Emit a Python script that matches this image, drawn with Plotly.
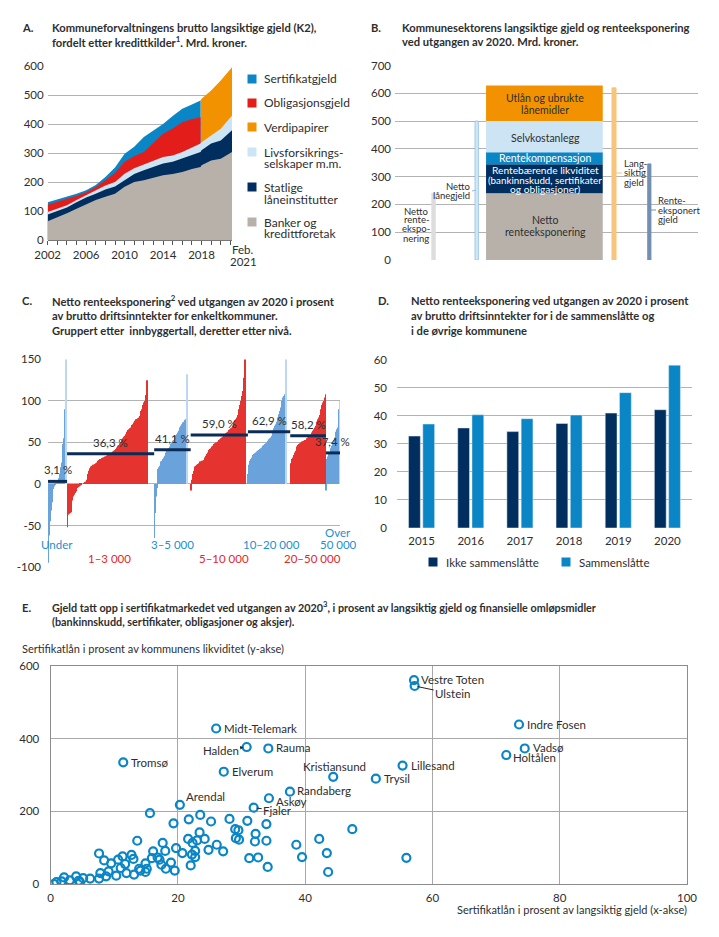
import numpy as np
import plotly.graph_objects as go

W, H = 719, 937
def PX(x): return x / W
def PY(y): return 1 - y / H

FONT = "Lato"
TXT = "#2e2e2e"
GRID = "#b3b3b3"
TSIZE = 11.2

# ---------------- Panel A data (Mrd. kroner, layer amounts) ----------------
a_x = [2002, 2003, 2004, 2005, 2006, 2007, 2008, 2009, 2010, 2011, 2012, 2013,
       2014, 2015, 2016, 2017, 2017.9, 2018, 2019, 2020, 2021.17]
a_banker = [65, 78, 92, 108, 124, 138, 149, 160, 184, 200, 206, 216, 224, 228, 235, 245, 252, 258, 275, 281, 304]
a_statlige = [23, 22, 20, 22, 23, 22, 25, 25, 22, 28, 35, 36, 40, 42, 46, 48, 52, 52, 58, 63, 75]
a_livs = [9, 8, 8, 8, 8, 10, 14, 15, 23, 20, 21, 22, 23, 22, 23, 25, 29, 28, 28, 40, 51]
a_oblig = [25, 24, 21, 15, 10, 13, 18, 32, 41, 42, 42, 61, 80, 93, 103, 100, 91]   # to 2017.9
a_sert = [8, 8, 8, 7, 7, 7, 12, 18, 28, 32, 52, 43, 34, 43, 46, 50, 58]            # to 2017.9
a_verdi = [149, 150, 155, 167, 167]                                                # from 2017.9
a_ticks = [2002, 2006, 2010, 2014, 2018]
a_legend = [("Sertifikatgjeld", None), ("Obligasjonsgjeld", None), ("Verdipapirer", None),
            ("Livsforsikrings-", "selskaper m.m."), ("Statlige", "låneinstitutter"),
            ("Banker og", "kredittforetak")]

# ---------------- Panel B data ----------------
b_seg_names = ["Netto renteeksponering", "Rentebærende likviditet", "Rentekompensasjon",
               "Selvkostanlegg", "Utlån og ubrukte lånemidler"]
b_seg_values = [240, 105, 43, 112, 128]
b_thin_names = ["Netto renteeksponering", "Netto lånegjeld", "Langsiktig gjeld", "Renteeksponert gjeld"]
b_thin_values = [240, 500, 620, 346]

# ---------------- Panel C data (% av brutto driftsinntekter) ----------------
c_groups = ["Under", "1–3 000", "3–5 000", "5–10 000", "10–20 000", "20–50 000", "Over<br>50 000"]
c_under = [-95, -62, -45, -32, -22, -12, -6, -3, -1, 0, 1, 2, 4, 7, 12, 20, 26, 35, 48, 55, 90, 150]
c_1_3 = [-52, -37, -36, -35, -34, -33, -20, -15, -13, -11, -9, -7, -5, -4, -3, -2, -1, -1,
         0, 0, 1, 2, 3, 5, 8, 12, 16, 19, 21, 22, 22, 23, 23, 24, 25, 26, 27, 28, 29, 30,
         30, 31, 31, 32, 32, 33, 33, 34, 34, 35, 35, 36, 37, 37, 38, 39,
         40, 41, 42, 43, 44, 46, 47, 49, 50, 52, 53, 55, 57, 58, 60, 62, 63, 65, 66, 67,
         68, 70, 71, 72, 74, 76, 77, 78, 78, 79, 80, 82, 85, 88, 90, 95, 98, 100, 104, 107, 125]
c_3_5 = [-65, -35, -15, -5, 18, 20, 22, 25, 27, 28, 30, 32, 34, 36, 38, 40, 41, 43, 45, 46,
         48, 50, 52, 53, 55, 57, 58, 60, 62, 64, 66, 68, 70, 72, 74, 75, 76, 77, 78, 132]
c_5_10 = [-8, 5, 12, 16, 19, 21, 22, 23, 24, 25, 26, 27, 27, 28, 28, 29, 30, 32, 34, 36, 38, 40,
          41, 42, 43, 45, 46, 47, 48, 49, 50, 50, 51, 52, 53, 54, 55, 56, 57, 58, 59, 60, 61, 62,
          63, 64, 65, 66, 67, 68, 70, 72, 74, 76, 78, 80, 83, 86, 90, 95, 100, 106, 112, 120, 128, 150]
c_10_20 = [12, 23, 28, 30, 32, 33, 35, 36, 37, 38, 39, 40, 40, 41, 42, 43, 44, 45, 46, 47,
           48, 49, 50, 51, 52, 54, 55, 56, 58, 61, 64, 67, 70, 72, 75, 78, 80, 84, 88, 92,
           97, 100, 104, 106, 108, 150]
c_20_50 = [25, 28, 30, 32, 35, 38, 40, 42, 45, 47, 48, 49, 50, 50, 51, 51, 52, 53, 53, 54,
           55, 56, 57, 58, 59, 60, 62, 64, 66, 68, 70, 72, 75, 78, 80, 83, 86, 90, 95, 98,
           100, 104, 108]
c_over = [-8, 30, 33, 36, 38, 40, 43, 46, 50, 53, 56, 60, 63, 66, 68, 90, 100]
c_means = [3.1, 36.3, 41.1, 59.0, 62.9, 58.2, 37.4]
c_values = [c_under, c_1_3, c_3_5, c_5_10, c_10_20, c_20_50, c_over]

# ---------------- Panel D data ----------------
d_years = ["2015", "2016", "2017", "2018", "2019", "2020"]
d_ikke = [32.8, 35.7, 34.4, 37.3, 41.0, 42.2]
d_samm = [37.1, 40.4, 39.0, 40.3, 48.3, 58.1]

# ---------------- Panel E data ----------------
e_x = [0.5, 0.9, 1.7, 2.1, 3.0, 4.0, 4.4, 4.6, 5.1, 6.2, 7.6, 7.8, 7.6, 8.4, 8.7, 9.1, 9.5,
       10.3, 10.6, 11.0, 11.3, 11.7, 11.9, 12.7, 13.0, 13.1, 13.6, 13.9, 14.1, 14.9, 15.1,
       14.9, 15.6, 15.9, 16.1, 16.8, 17.1, 17.4, 17.6, 18.0, 18.1, 18.9, 19.3, 19.5, 19.7,
       20.7, 21.7, 21.6, 22.0, 22.2, 22.3, 22.7, 22.7, 23.0, 23.5, 23.4, 24.2, 24.8, 25.2,
       26.1, 27.1, 28.1, 29.0, 29.5, 29.1, 29.6, 30.9, 31.2, 32.2, 32.1, 32.6, 33.9, 33.9,
       34.1, 38.6, 39.5, 42.2, 43.4, 43.6, 47.4, 55.9]
e_y = [0, 5, 7, 18, 10, 21, 9, 5, 16, 15, 84, 30, 15, 65, 21, 35, 57, 23, 67, 44, 76, 55,
       30, 80, 69, 26, 119, 42, 37, 57, 42, 33, 195, 71, 90, 73, 67, 53, 113, 91, 42, 59,
       167, 37, 99, 85, 178, 124, 51, 81, 113, 91, 74, 120, 190, 142, 124, 94, 172, 108, 90,
       179, 151, 148, 126, 122, 174, 71, 138, 117, 73, 165, 119, 47, 108, 74, 124, 85, 33,
       151, 72]
e_names = ["Tromsø", "Midt-Telemark", "Halden", "Rauma", "Elverum", "Arendal", "Kristiansund",
           "Randaberg", "Askøy", "Fjaler", "Vestre Toten", "Ulstein", "Indre Fosen", "Vadsø",
           "Holtålen", "Lillesand", "Trysil"]
e_lab_x = [11.4, 26.0, 30.8, 34.2, 27.2, 20.3, 44.4, 37.6, 34.3, 31.9, 57.1, 57.2, 73.6, 74.5, 71.6, 55.3, 51.1]
e_lab_y = [335, 428, 377, 373, 309, 218, 295, 254, 236, 210, 561, 545, 439, 373, 355, 326, 290]

# ---------------- styles ----------------
C_GRAY = "#b7b1aa"; C_NAVY = "#002f5f"; C_LIGHT = "#cde4f4"
C_RED = "#e31e1a"; C_BLUE = "#0a86c6"; C_ORANGE = "#f39200"
C_BARBLUE = "#6aa3db"; C_BARRED = "#e5342f"; C_BARLIGHT = "#bcd8f0"

fig = go.Figure()
ann = []
shapes = []

def text(x, y, s, size=11, color=TXT, xanchor="left", bold=False):
    if bold:
        s = "<b>" + s + "</b>"
    ann.append(dict(x=PX(x), y=PY(y), xref="paper", yref="paper", text=s, showarrow=False,
                    xanchor=xanchor, yanchor="middle", font=dict(family=FONT, size=size, color=color)))

def square(x, y, color, s=9):
    shapes.append(dict(type="rect", xref="paper", yref="paper", x0=PX(x - s / 2), x1=PX(x + s / 2),
                       y0=PY(y + s / 2), y1=PY(y - s / 2), fillcolor=color, line=dict(width=0)))

def pline(x0, y0, x1, y1, color, w=1):
    shapes.append(dict(type="line", xref="paper", yref="paper", x0=PX(x0), y0=PY(y0), x1=PX(x1), y1=PY(y1),
                       line=dict(color=color, width=w)))

tickfont = dict(family=FONT, size=11.5, color=TXT)

# ================= Panel A =================
xa = np.array(a_x, float)
c1 = np.array(a_banker, float)
c2 = c1 + np.array(a_statlige)
c3 = c2 + np.array(a_livs)
n_old = len(a_oblig)
c4 = c3[:n_old] + np.array(a_oblig)
c5 = c4 + np.array(a_sert)
c6 = c3[n_old - 1:] + np.array(a_verdi)
for xx, yy, col in [(xa[n_old - 1:], c6, C_ORANGE), (xa[:n_old], c5, C_BLUE), (xa[:n_old], c4, C_RED),
                    (xa, c3, C_LIGHT), (xa, c2, C_NAVY), (xa, c1, C_GRAY)]:
    fig.add_trace(go.Scatter(x=xx, y=yy, mode="lines", line=dict(width=0, color=col), fill="tozeroy",
                             fillcolor=col, xaxis="x", yaxis="y", showlegend=False, hoverinfo="skip"))

text(20, 27, "A.", TSIZE, bold=True)
text(50, 27, "Kommuneforvaltningens brutto langsiktige gjeld (K2),", TSIZE, bold=True)
text(50, 42, "fordelt etter kredittkilder<sup>1</sup>. Mrd. kroner.", TSIZE, bold=True)
text(243, 249, "Feb.", 11.5, xanchor="center")
text(243, 262, "2021", 11.5, xanchor="center")
leg_cols = [C_BLUE, C_RED, C_ORANGE, C_LIGHT, C_NAVY, C_GRAY]
leg_y = [79, 103, 127, 152, 187, 222]
for (l1, l2), col, yy in zip(a_legend, leg_cols, leg_y):
    square(252, yy, col)
    text(262, yy, l1, 12)
    if l2:
        text(262, yy + 12, l2, 12)

# ================= Panel B =================
b_base = np.cumsum([0] + b_seg_values[:-1])
b_seg_cols = [C_GRAY, C_NAVY, C_BLUE, C_LIGHT, C_ORANGE]
fig.add_trace(go.Bar(x=[149.4] * len(b_seg_values), y=b_seg_values, base=b_base, width=116.7,
                     marker=dict(color=b_seg_cols, line=dict(width=0)), xaxis="x2", yaxis="y2",
                     showlegend=False, hoverinfo="skip"))
fig.add_trace(go.Bar(x=[38.5, 81.7, 219.0, 254.3], y=b_thin_values, width=[3.6, 3.4, 4.2, 3.4],
                     marker=dict(color=["#dddddd", "#d3e8f7", "#f8c57c", "#7390b2"],
                                 line=dict(color=["#dddddd", "#8ec0e4", "#f8c57c", "#7390b2"], width=0.8)),
                     xaxis="x2", yaxis="y2", showlegend=False, hoverinfo="skip"))
text(369, 27, "B.", TSIZE, bold=True)
text(400, 27, "Kommunesektorens langsiktige gjeld og renteeksponering", TSIZE, bold=True)
text(400, 42, "ved utgangen av 2020. Mrd. kroner.", TSIZE, bold=True)
text(545, 98, "Utlån og ubrukte", 10.5, xanchor="center")
text(545, 110, "lånemidler", 10.5, xanchor="center")
text(545, 138, "Selvkostanlegg", 10.5, xanchor="center")
text(545, 158.5, "Rentekompensasjon", 10.5, "white", xanchor="center")
text(545, 170, "Rentebærende likviditet", 10.2, "white", xanchor="center")
text(545, 179.5, "(bankinnskudd, sertifikater", 9.8, "white", xanchor="center")
text(545, 188.5, "og obligasjoner)", 10.2, "white", xanchor="center")
text(545, 220, "Netto", 10.5, xanchor="center")
text(545, 232, "renteeksponering", 10.5, xanchor="center")
for i, s in enumerate(["Netto", "rente-", "ekspo-", "nering"]):
    text(416, 211 + 9 * i, s, 9.5, xanchor="center")
text(472, 186, "Netto", 9.5, xanchor="right")
text(472, 195.5, "lånegjeld", 9.5, xanchor="right")
pline(472, 191, 476, 190, "#8ec0e4")
for i, s in enumerate(["Lang-", "siktig", "gjeld"]):
    text(622, 164 + 9 * i, s, 9.5)
pline(616, 173, 622, 173, "#f8c57c")
for i, s in enumerate(["Rente-", "eksponert", "gjeld"]):
    text(656, 201 + 9 * i, s, 9.5)
pline(651, 210, 656, 210, "#7390b2")

# ================= Panel C =================
c_start = [0, 23, 128, 172, 241, 292, 335]
c_end = 352
c_is_blue = [True, False, True, False, True, False, True]
for vals, st, blue in zip(c_values, c_start, c_is_blue):
    n = len(vals)
    cols = [C_BARBLUE if blue else C_BARRED] * n
    if blue:
        cols[-1] = C_BARLIGHT
    fig.add_trace(go.Bar(x=st + np.arange(n) + 0.5, y=vals, width=0.86,
                         marker=dict(color=cols, line=dict(width=0)), xaxis="x3", yaxis="y3",
                         showlegend=False, hoverinfo="skip"))
c_bounds = c_start + [c_end]
for i, m in enumerate(c_means):
    shapes.append(dict(type="line", xref="x3", yref="y3", x0=c_bounds[i], x1=c_bounds[i + 1],
                       y0=m, y1=m, line=dict(color="#0b2c56", width=3)))
    ann.append(dict(x=(c_bounds[i] + c_bounds[i + 1]) / 2, y=m, xref="x3", yref="y3",
                    text=f"{m:.1f}".replace(".", ",") + " %", showarrow=False, yanchor="bottom",
                    yshift=3, font=dict(family=FONT, size=11.5, color=TXT)))
text(20, 300, "C.", TSIZE, bold=True)
text(50, 300, "Netto renteeksponering<sup>2</sup> ved utgangen av 2020 i prosent", TSIZE, bold=True)
text(50, 315, "av brutto driftsinntekter for enkeltkommuner.", TSIZE, bold=True)
text(50, 330, "Gruppert etter  innbyggertall, deretter etter nivå.", TSIZE, bold=True)
C_LBLUE = "#1b8fd2"; C_LRED = "#e3262b"
text(57, 544, "Under", 11.5, C_LBLUE, "center")
text(109, 558, "1–3 000", 11.5, C_LRED, "center")
text(172, 544, "3–5 000", 11.5, C_LBLUE, "center")
text(224, 558, "5–10 000", 11.5, C_LRED, "center")
text(271, 544, "10–20 000", 11.5, C_LBLUE, "center")
text(312, 558, "20–50 000", 11.5, C_LRED, "center")
text(338, 532, "Over", 11.5, C_LBLUE, "center")
text(338, 544, "50 000", 11.5, C_LBLUE, "center")

# ================= Panel D =================
fig.add_trace(go.Bar(x=d_years, y=d_ikke, width=0.24, offset=-0.265, marker=dict(color=C_NAVY),
                     xaxis="x4", yaxis="y4", showlegend=False, hoverinfo="skip"))
fig.add_trace(go.Bar(x=d_years, y=d_samm, width=0.24, offset=0.025, marker=dict(color=C_BLUE),
                     xaxis="x4", yaxis="y4", showlegend=False, hoverinfo="skip"))
text(376, 300, "D.", TSIZE, bold=True)
text(409, 300, "Netto renteeksponering ved utgangen av 2020 i prosent", TSIZE, bold=True)
text(409, 315, "av brutto driftsinntekter for i de sammenslåtte og", TSIZE, bold=True)
text(409, 330, "i de øvrige kommunene", TSIZE, bold=True)
square(433, 562, C_NAVY)
text(444, 562, "Ikke sammenslåtte", 11.5)
square(566, 562, C_BLUE)
text(577, 562, "Sammenslåtte", 11.5)

# ================= Panel E =================
all_x = e_x + e_lab_x
all_y = e_y + e_lab_y
fig.add_trace(go.Scatter(x=all_x, y=all_y, mode="markers",
                         marker=dict(symbol="circle-open", size=8, color=C_BLUE, line=dict(width=2.2)),
                         xaxis="x5", yaxis="y5", showlegend=False, hoverinfo="skip"))
# label offsets (px): name -> (xshift, yshift, xanchor, arrow (ax, ay, head))
e_lab_style = {
    "Tromsø": (6, 0, "left", None), "Midt-Telemark": (6, 0, "left", None),
    "Halden": (None, None, None, (-26, 3, 2)), "Rauma": (6, 1, "left", None),
    "Elverum": (6, 0, "left", None), "Arendal": (4, 8, "left", None),
    "Kristiansund": (1, 10, "center", None), "Randaberg": (5, 1, "left", None),
    "Askøy": (5, -3, "left", None), "Fjaler": (None, None, None, (24, 3, 0)),
    "Vestre Toten": (5, 1, "left", None), "Ulstein": (None, None, None, (38, 8, 0)),
    "Indre Fosen": (6, 0, "left", None), "Vadsø": (6, 1, "left", None),
    "Holtålen": (5, -2, "left", None), "Lillesand": (6, 0, "left", None),
    "Trysil": (6, 0, "left", None),
}
for nm, xv, yv in zip(e_names, e_lab_x, e_lab_y):
    xs, ys, xa_, arr = e_lab_style[nm]
    if arr is None:
        ann.append(dict(x=xv, y=yv, xref="x5", yref="y5", text=nm, showarrow=False, xanchor=xa_,
                        yanchor="middle", xshift=xs, yshift=ys, font=dict(family=FONT, size=11.5, color=TXT)))
    else:
        axv, ayv, head = arr
        ann.append(dict(x=xv, y=yv, xref="x5", yref="y5", text=nm, showarrow=True, ax=axv, ay=ayv,
                        arrowhead=head, arrowsize=0.7, arrowwidth=1, arrowcolor="#222", standoff=3,
                        font=dict(family=FONT, size=11.5, color=TXT)))
text(20, 607, "E.", TSIZE, bold=True)
text(50, 607, "Gjeld tatt opp i sertifikatmarkedet ved utgangen av 2020<sup>3</sup>, i prosent av langsiktig gjeld og finansielle omløpsmidler", 10.8, bold=True)
text(50, 621, "(bankinnskudd, sertifikater, obligasjoner og aksjer).", 10.8, bold=True)
text(20, 648, "Sertifikatlån i prosent av kommunens likviditet (y-akse)", 11)
text(689, 909, "Sertifikatlån i prosent av langsiktig gjeld (x-akse)", 11, xanchor="right")

# ================= Layout =================
def yax(dom, rng, dtick, **kw):
    d = dict(domain=[PY(dom[0]), PY(dom[1])], range=rng, dtick=dtick, showgrid=True, gridcolor=GRID,
             gridwidth=1.3, zeroline=False, showline=False, ticks="", tickfont=tickfont, fixedrange=True,
             automargin=False)
    d.update(kw)
    return d

layout = dict(
    width=W, height=H, margin=dict(l=0, r=0, t=0, b=0, pad=0, autoexpand=False),
    paper_bgcolor="white", plot_bgcolor="white",
    barmode="overlay", hovermode=False, font=dict(family=FONT, color=TXT),
    xaxis=dict(domain=[PX(47.7), PX(232)], range=[2002, 2021.17], tickvals=a_ticks, showgrid=False,
               zeroline=False, showline=True, linecolor="#777", linewidth=1, ticks="outside", ticklen=4,
               tickcolor="#555", tickfont=tickfont, anchor="y", automargin=False,
               minor=dict(ticks="outside", dtick=1, tick0=2002, ticklen=4, tickcolor="#555")),
    yaxis=yax((240, 66), [0, 601], 100, anchor="x", ticklabelstandoff=3),
    xaxis2=dict(domain=[PX(395), PX(698)], range=[0, 303], visible=False, anchor="y2", automargin=False),
    yaxis2=yax((260, 65), [0, 702], 100, anchor="x2", ticklabelstandoff=3),
    xaxis3=dict(domain=[PX(48), PX(340)], range=[0, 352], visible=False, anchor="y3", automargin=False),
    yaxis3=yax((567, 359), [-100, 150.5], 50, anchor="x3", tickvals=[-100, -50, 0, 50, 100, 150],
               ticktext=["-100", "-50", "0", "50", "100", "150"], ticklabelstandoff=6),
    xaxis4=dict(domain=[PX(397), PX(692)], type="category", showgrid=False, zeroline=False,
                showline=False, ticks="", tickfont=tickfont, anchor="y4", ticklabelstandoff=4,
                automargin=False),
    yaxis4=yax((528, 359), [0, 60.3], 10, anchor="x4", ticklabelstandoff=9),
    xaxis5=dict(domain=[PX(50.7), PX(687)], range=[0, 100], dtick=20, showgrid=True, gridcolor="#a8a8a8",
                gridwidth=1.3, zeroline=False, showline=True, mirror=True, linecolor="#8c8c8c", linewidth=1.3,
                ticks="", tickfont=tickfont, anchor="y5", ticklabelstandoff=3, automargin=False),
    yaxis5=dict(domain=[PY(884), PY(666)], range=[0, 600], dtick=200, showgrid=True, gridcolor="#a8a8a8",
                gridwidth=1.3, zeroline=False, showline=True, mirror=True, linecolor="#8c8c8c", linewidth=1.3,
                ticks="", tickfont=tickfont, anchor="x5", ticklabelstandoff=8, automargin=False),
    annotations=ann, shapes=shapes,
)
fig.update_layout(**layout)
fig.write_html("out.html", config={"displayModeBar": False},
               post_script="document.body.style.margin='0px';document.body.style.padding='0px';")
